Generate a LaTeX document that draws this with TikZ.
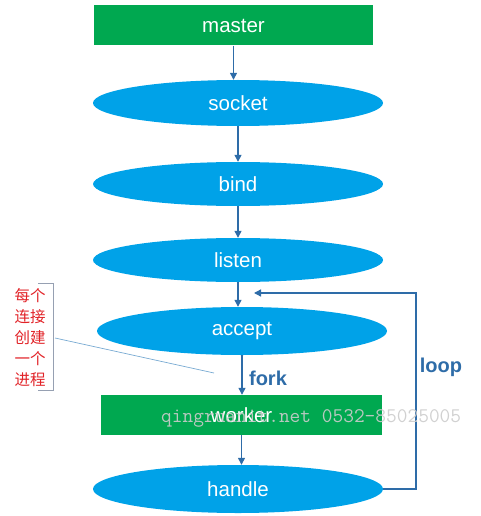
\documentclass[tikz,border=0pt]{standalone}
\usepackage{fontspec}
\setmainfont{Liberation Sans}
\newfontfamily\cjk{Noto Sans CJK SC}
\newfontfamily\markfont{Latin Modern Mono}
\usepackage{xcolor}
\usetikzlibrary{shapes.geometric,arrows.meta,positioning}
\definecolor{boxgreen}{RGB}{0,168,80}
\definecolor{ovalblue}{RGB}{0,162,232}
\definecolor{linkblue}{RGB}{46,108,168}
\definecolor{notered}{RGB}{225,35,40}
\definecolor{bracketgray}{RGB}{150,160,178}
\definecolor{pointerblue}{RGB}{120,170,210}

\begin{document}
\begin{tikzpicture}[x=1pt,y=-1pt,
    box/.style={rectangle, fill=boxgreen, text=white, inner sep=0pt,
        minimum height=40pt, font=\fontsize{20.5}{24}\selectfont},
    oval/.style={ellipse, fill=ovalblue, text=white, inner sep=0pt,
        minimum width=290pt, minimum height=46pt, font=\fontsize{20.5}{24}\selectfont},
    link/.style={-{Triangle[width=7pt,length=7pt]}, draw=linkblue, line width=1.3pt},
    tag/.style={text=linkblue, font=\bfseries\fontsize{20}{24}\selectfont}]
    \useasboundingbox (0,0) rectangle (481,516);
    % main chain
    \node[box, minimum width=279pt] (master) at (233.5,25.5) {master};
    \node[oval] (socket) at (238,103) {socket};
    \node[oval, minimum height=44pt] (bind) at (238,184) {bind};
    \node[oval, minimum height=44pt] (listen) at (238,260) {listen};
    \node[oval, minimum height=48pt] (accept) at (242,331) {accept};
    \node[box, minimum width=281pt] (worker) at (241.5,415) {worker};
    \node[oval, minimum height=48pt] (handle) at (238,489) {handle};
    \draw[link] (master.south) -- (master.south |- socket.north);
    \draw[link] (socket.south) -- (bind.north);
    \draw[link] (bind.south) -- (listen.north);
    \draw[link] (listen.south) -- (listen.south |- accept.north);
    \draw[link] (accept.south) -- (accept.south |- worker.north);
    \draw[link] (worker.south) -- (worker.south |- handle.north);
    % loop back
    \coordinate (loopcorner) at (416,293);
    \coordinate (loopin) at (254,293);
    \draw[link] (handle.east) -| (loopcorner) -- (loopin);
    \node[tag] (fork) at (268,378) {fork};
    \node[tag] (loop) at (441,367) {loop};
    % side note
    \node[text=notered, align=center, font=\cjk\fontsize{15.5}{21}\selectfont] (note) at (30,338)
        {每个\\连接\\创建\\一个\\进程};
    \draw[bracketgray, line width=0.8pt] (38,283) -- (53,283) -- (53,390) -- (38,390);
    \coordinate (notefoot) at (55,338);
    \coordinate (notetip) at (214,373);
    \draw[pointerblue, line width=0.7pt] (notefoot) -- (notetip);
    % watermark
    \node[anchor=base west, inner sep=0pt, text=white!80!black, opacity=0.9,
        font=\markfont\fontsize{20.8}{22}\selectfont] (mark) at (161,422)
        {qingruanit.net 0532-85025005};
\end{tikzpicture}
\end{document}
